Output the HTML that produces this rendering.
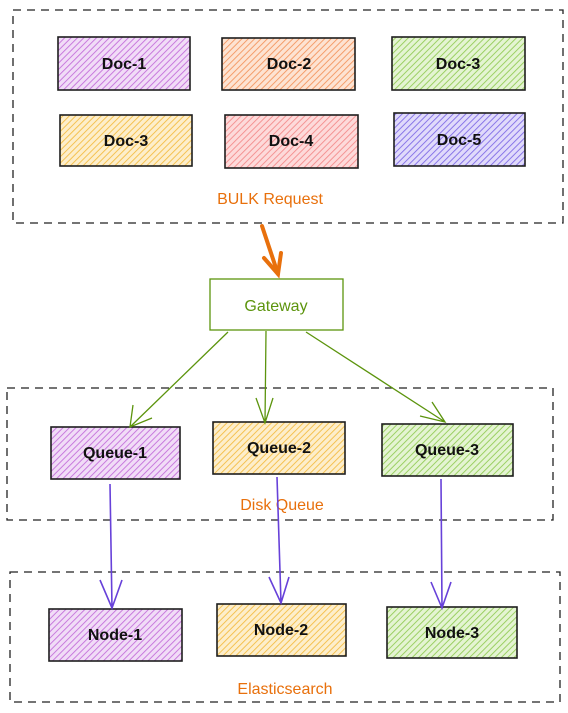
<!DOCTYPE html>
<html><head><meta charset="utf-8"><style>
html,body{margin:0;padding:0;background:#fff}
svg{display:block}
text{font-family:"Liberation Sans",sans-serif;font-size:16px;text-anchor:middle;dominant-baseline:middle}
</style></head><body>
<svg width="568" height="713" viewBox="0 0 568 713" xmlns="http://www.w3.org/2000/svg">
<defs>
<pattern id="hp" width="4.5" height="4.5" patternUnits="userSpaceOnUse" patternTransform="rotate(45)"><rect width="5" height="5" fill="#f1dcf7"/><line x1="0" y1="0" x2="0" y2="5" stroke="#c470da" stroke-width="1.8"/></pattern>
<pattern id="ho" width="4.5" height="4.5" patternUnits="userSpaceOnUse" patternTransform="rotate(45)"><rect width="5" height="5" fill="#fde3d2"/><line x1="0" y1="0" x2="0" y2="5" stroke="#f39660" stroke-width="1.8"/></pattern>
<pattern id="hg" width="4.5" height="4.5" patternUnits="userSpaceOnUse" patternTransform="rotate(45)"><rect width="5" height="5" fill="#e4f4d2"/><line x1="0" y1="0" x2="0" y2="5" stroke="#94cc58" stroke-width="1.8"/></pattern>
<pattern id="hy" width="4.5" height="4.5" patternUnits="userSpaceOnUse" patternTransform="rotate(45)"><rect width="5" height="5" fill="#fdeecb"/><line x1="0" y1="0" x2="0" y2="5" stroke="#f4bd45" stroke-width="1.8"/></pattern>
<pattern id="hr" width="4.5" height="4.5" patternUnits="userSpaceOnUse" patternTransform="rotate(45)"><rect width="5" height="5" fill="#fddada"/><line x1="0" y1="0" x2="0" y2="5" stroke="#f38c8c" stroke-width="1.8"/></pattern>
<pattern id="hb" width="4.5" height="4.5" patternUnits="userSpaceOnUse" patternTransform="rotate(45)"><rect width="5" height="5" fill="#e0dafb"/><line x1="0" y1="0" x2="0" y2="5" stroke="#806ce6" stroke-width="1.8"/></pattern>
</defs>
<g fill="none" stroke="#222" stroke-width="1.3" stroke-dasharray="8 6">
<rect x="13" y="10" width="550" height="213"/>
<rect x="7" y="388" width="546" height="132"/>
<rect x="10" y="572" width="550" height="130"/>
</g>
<g stroke="#1e1e1e" stroke-width="1.6">
<rect x="58" y="37" width="132" height="53" fill="url(#hp)"/>
<rect x="222" y="38" width="133" height="52" fill="url(#ho)"/>
<rect x="392" y="37" width="133" height="53" fill="url(#hg)"/>
<rect x="60" y="115" width="132" height="51" fill="url(#hy)"/>
<rect x="225" y="115" width="133" height="53" fill="url(#hr)"/>
<rect x="394" y="113" width="131" height="53" fill="url(#hb)"/>
<rect x="51" y="427" width="129" height="52" fill="url(#hp)"/>
<rect x="213" y="422" width="132" height="52" fill="url(#hy)"/>
<rect x="382" y="424" width="131" height="52" fill="url(#hg)"/>
<rect x="49" y="609" width="133" height="52" fill="url(#hp)"/>
<rect x="217" y="604" width="129" height="52" fill="url(#hy)"/>
<rect x="387" y="607" width="130" height="51" fill="url(#hg)"/>
</g>
<rect x="210" y="279" width="133" height="51" fill="#fff" stroke="#5c940d" stroke-width="1.3"/>
<g fill="#111" font-weight="bold" style="font-weight:600">
<text x="124" y="65">Doc-1</text><text x="289" y="65">Doc-2</text><text x="458" y="65">Doc-3</text>
<text x="126" y="142">Doc-3</text><text x="291" y="142">Doc-4</text><text x="459" y="141">Doc-5</text>
<text x="115" y="454">Queue-1</text><text x="279" y="449">Queue-2</text><text x="447" y="451">Queue-3</text>
<text x="115" y="636">Node-1</text><text x="281" y="631">Node-2</text><text x="452" y="634">Node-3</text>
</g>
<text x="270" y="200" fill="#e8700c">BULK Request</text>
<text x="276" y="307" fill="#5c940d">Gateway</text>
<text x="282" y="506" fill="#e8700c">Disk Queue</text>
<text x="285" y="690" fill="#e8700c">Elasticsearch</text>
<g stroke="#e8700c" stroke-width="4" fill="none" stroke-linecap="round">
<path d="M262 226 L278 274"/><path d="M264 258 L278 274 L281 253"/>
</g>
<g stroke="#5c940d" stroke-width="1.3" fill="none">
<path d="M228 332 L130 427 M133 405 L130 427 L152 418"/>
<path d="M266 331 L265 423 M256 398 L265 423 L273 398"/>
<path d="M306 332 L445 422 M432 402 L445 422 L420 416"/>
</g>
<g stroke="#6741d9" stroke-width="1.6" fill="none">
<path d="M110 484 L112 608 M100 580 L112 608 L122 580"/>
<path d="M277 477 L281 603 M269 577 L281 603 L289 577"/>
<path d="M441 479 L442 608 M431 582 L442 608 L451 582"/>
</g>
</svg>
</body></html>
